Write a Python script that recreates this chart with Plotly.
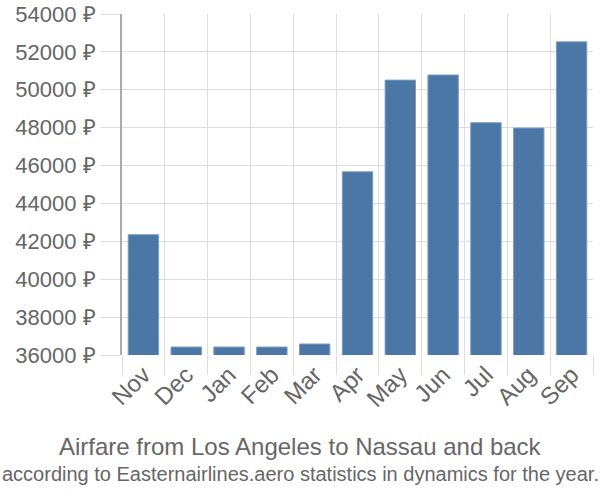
import plotly.graph_objects as go

months = ["Nov", "Dec", "Jan", "Feb", "Mar", "Apr", "May", "Jun", "Jul", "Aug", "Sep"]
prices = [42350, 36420, 36420, 36420, 36580, 45670, 50510, 50780, 48260, 47980, 52530]
y_ticks = list(range(36000, 54001, 2000))
y_labels = [f"{v} ₽" for v in y_ticks]

title = "Airfare from Los Angeles to Nassau and back"
subtitle = "according to Easternairlines.aero statistics in dynamics for the year."

fig = go.Figure(go.Bar(
    x=months, y=prices,
    marker=dict(color="#4a77a6", line=dict(color="#7d9cc0", width=1)),
))

fig.update_layout(
    width=600, height=500,
    margin=dict(l=122, r=7, t=14, b=145, autoexpand=False),
    paper_bgcolor="white", plot_bgcolor="white",
    font=dict(family="Liberation Sans, Arial, sans-serif", color="#666666", size=22),
    bargap=0.29,
    showlegend=False,
    xaxis=dict(
        type="category", tickson="boundaries", automargin=False,
        showgrid=True, gridcolor="#dddddd", gridwidth=1,
        ticks="outside", ticklen=19, tickcolor="#dddddd",
        tickangle=-45, tickfont=dict(size=24, color="#666666"),
        showline=False, zeroline=False,
    ),
    yaxis=dict(
        range=[36000, 54000], tickvals=y_ticks, ticktext=y_labels, automargin=False,
        showgrid=True, gridcolor="#dddddd", gridwidth=1,
        ticks="outside", ticklen=20, tickcolor="#dddddd",
        tickfont=dict(size=22, color="#666666"),
        showline=True, linecolor="#aaaaaa", linewidth=2,
        zeroline=False,
    ),
    annotations=[
        dict(text=title, xref="paper", yref="paper", x=0.5, xanchor="center",
             xshift=-57.5, y=0, yshift=-76, yanchor="top", showarrow=False,
             font=dict(size=24, color="#666666")),
        dict(text=subtitle, xref="paper", yref="paper", x=0.5, xanchor="center",
             xshift=-57.5, y=0, yshift=-106, yanchor="top", showarrow=False,
             font=dict(size=20, color="#666666")),
    ],
)

fig.write_html("out.html")
